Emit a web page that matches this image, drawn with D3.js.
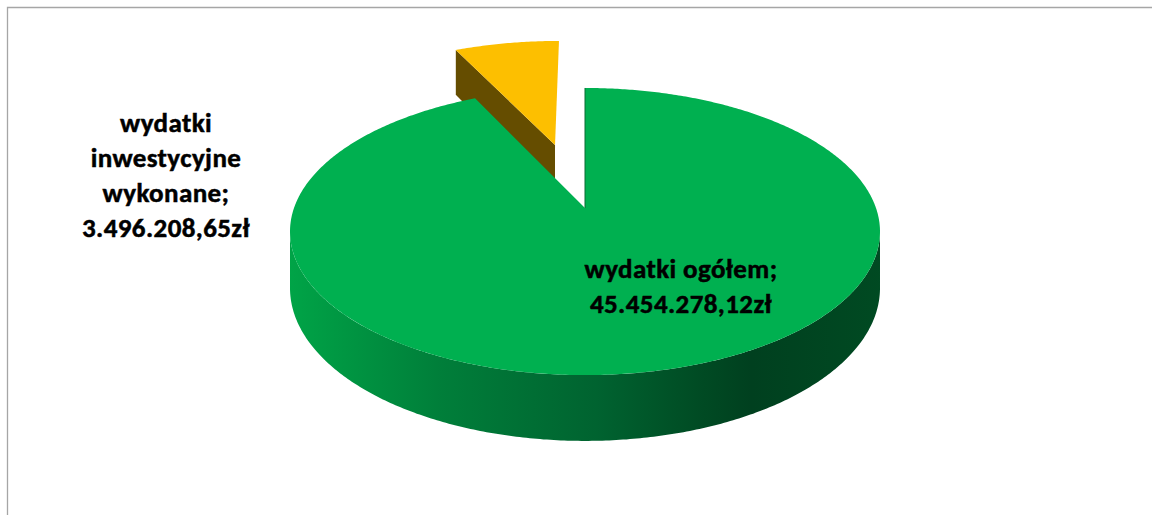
<!DOCTYPE html>
<html lang="pl">
<head>
<meta charset="utf-8">
<script src="https://d3js.org/d3.v7.min.js"></script>
<style type="text/css">
body {
	margin: 0;
	background: #fff;
}
.label {
	font-family: Carlito, Calibri, Lato, sans-serif;
	font-weight: bold;
	font-size: 27px;
	letter-spacing: 0.4px;
	fill: #000;
	stroke: #000;
	stroke-width: 0.5px;
}
</style>
</head>
<body>
<script type="text/javascript">

// Data
var categories = ["wydatki ogółem", "wydatki inwestycyjne wykonane"];
var labelLines = [["wydatki ogółem;"], ["wydatki", "inwestycyjne", "wykonane;"]];
var values = [45454278.12, 3496208.65];
var topColors = ["#00b050", "#fdbf00"];
var sideColors = ["#007e39", "#654d00"];
var explode = [0, 0.5];

var width = 1152;
var height = 515;

// 3D pie geometry (perspective look)
var cx = 585, cy = 208;      // projected pie centre
var ax = 291, ay = 139.7;    // radius scale along x / y
var p = 0.164;               // perspective strength
var depth = 55;              // thickness of the pie

var pl = d3.formatLocale({decimal: ",", thousands: ".", grouping: [3], currency: ["", "zł"]});
var fmt = pl.format(",.2f");

var svg = d3.select("body")
            .append("svg")
            .attr("width", width)
            .attr("height", height);

// frame
svg.append("path")
   .attr("d", "M7.5," + height + "V7.5H" + width)
   .style("fill", "none")
   .style("stroke", "#a6a6a6")
   .style("stroke-width", 1.3);

// gradient for the green rim
var grad = svg.append("defs").append("linearGradient")
              .attr("id", "rim")
              .attr("gradientUnits", "userSpaceOnUse")
              .attr("x1", cx - ax * 1.02).attr("x2", cx + ax * 1.02)
              .attr("y1", 0).attr("y2", 0);
grad.selectAll("stop")
    .data([[0, "#00a447"], [0.25, "#007f3a"], [0.52, "#006330"], [0.7, "#004a23"], [0.78, "#00401f"], [1, "#004a22"]])
    .enter().append("stop")
    .attr("offset", function(d) { return d[0]; })
    .attr("stop-color", function(d) { return d[1]; });

// project plane point (X, Y in radius units, z = depth down) to screen
function proj(X, Y, z) {
  var w = 1 / (1 - p * Y);
  return [cx + ax * X * w, cy + ay * Y * w + z * w];
}

function rim(a, off, z) {
  return proj(off[0] + Math.sin(a), off[1] - Math.cos(a), z);
}

function arcPoints(a0, a1, off, z) {
  var n = Math.max(2, Math.ceil(Math.abs(a1 - a0) / 0.01));
  return d3.range(n + 1).map(function(i) {
    return rim(a0 + (a1 - a0) * i / n, off, z);
  });
}

var line = d3.line();

var pie = d3.pie().sort(null).startAngle(0).endAngle(2 * Math.PI);
var arcs = pie(values);

arcs.forEach(function(d, i) {
  var mid = (d.startAngle + d.endAngle) / 2;
  d.off = [explode[i] * Math.sin(mid), -explode[i] * Math.cos(mid)];
});

// silhouette angles of the rim
var sil = Math.acos(-p);          // right side
var silL = 2 * Math.PI - sil;     // left side

// draw back (yellow) slice first
var back = arcs[1];
var apexT = proj(back.off[0], back.off[1], 0);
var apexB = proj(back.off[0], back.off[1], depth);
svg.append("path")
   .attr("d", line([apexT, rim(back.startAngle, back.off, 0), rim(back.startAngle, back.off, depth), apexB]) + "Z")
   .style("fill", sideColors[1]);
svg.append("path")
   .attr("d", line([apexT].concat(arcPoints(back.startAngle, back.endAngle, back.off, 0))) + "Z")
   .style("fill", topColors[1]);

// front (green) slice
var front = arcs[0];
var sideTop = arcPoints(sil, silL, front.off, 0);
var sideBot = arcPoints(silL, sil, front.off, depth);
svg.append("path")
   .attr("d", line(sideTop.concat(sideBot)) + "Z")
   .style("fill", "url(#rim)");

var fApex = proj(front.off[0], front.off[1], 0);
svg.append("path")
   .attr("d", line([fApex].concat(arcPoints(front.startAngle, front.endAngle, front.off, 0))) + "Z")
   .style("fill", topColors[0]);

// edge-on radial face of the green slice
svg.append("path")
   .attr("d", line([fApex, rim(front.startAngle, front.off, 0)]))
   .style("stroke", "#0b6b35")
   .style("stroke-width", 1);

// labels
var labelPos = [[681, 278], [166, 132]];
var lineStep = 35;

labelLines.forEach(function(lines, i) {
  var all = lines.concat([fmt(values[i]) + "zł"]);
  var t = svg.append("text")
             .attr("class", "label")
             .attr("text-anchor", "middle");
  t.selectAll("tspan")
   .data(all)
   .enter().append("tspan")
   .attr("x", labelPos[i][0])
   .attr("y", function(d, j) { return labelPos[i][1] + j * lineStep; })
   .text(function(d) { return d; });
});

</script>
</body>
</html>
